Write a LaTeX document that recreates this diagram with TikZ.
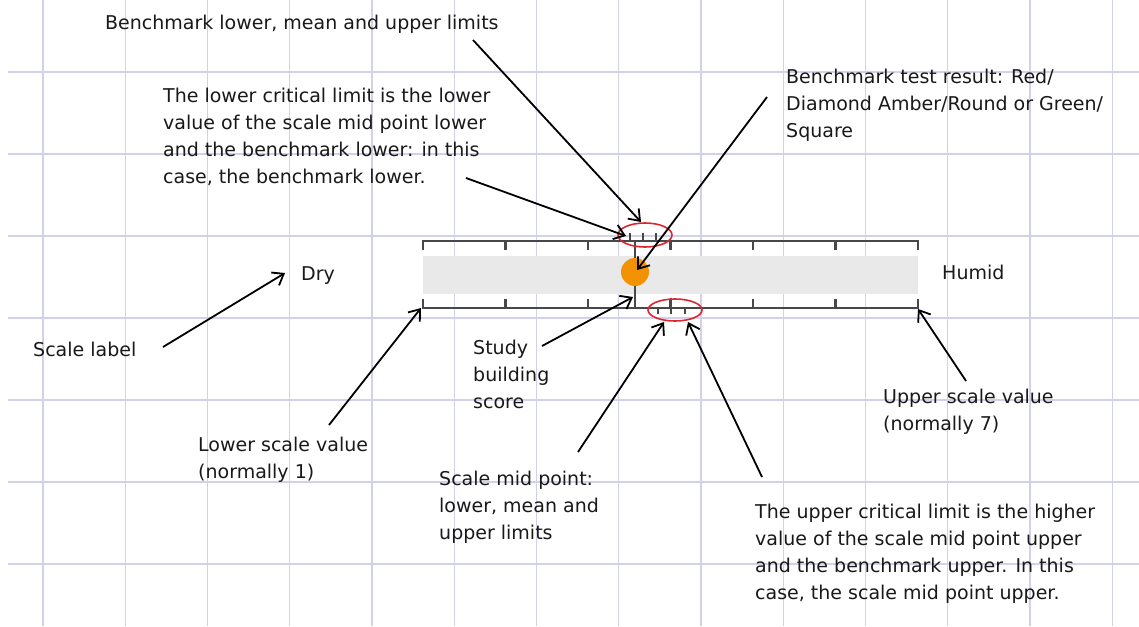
\documentclass[tikz,border=0pt]{standalone}
\usepackage{fontspec}
\setmainfont{DejaVu Sans}
\usetikzlibrary{arrows.meta, shapes.geometric}
\definecolor{gridcol}{RGB}{210,209,234}
\definecolor{barcol}{RGB}{72,72,72}
\definecolor{bandcol}{RGB}{233,233,233}
\definecolor{dotcol}{RGB}{243,146,0}
\definecolor{limcol}{RGB}{220,38,48}

\begin{document}
\begin{tikzpicture}[x=1pt, y=-1pt,
  gridline/.style={gridcol, line width=1.3pt},
  bar/.style={barcol, line width=2.6pt},
  limit/.style={draw=limcol, line width=1.6pt, ellipse, inner sep=0pt},
  arrow/.style={-{Straight Barb[length=10pt, width=15pt]}, line width=1.8pt, black},
  note/.style={anchor=base west, align=left, inner sep=0pt, text=black!90, font=\fontsize{19}{27}\selectfont}]
  \useasboundingbox (0,0) rectangle (1139,626);
  \fill[white] (0,0) rectangle (1139,626);
  \foreach \i in {0,...,13} \draw[gridline] (43+82.25*\i,0) -- (43+82.25*\i,626);
  \foreach \j in {0,...,6} \draw[gridline] (8,72+82*\j) -- (1139,72+82*\j);

  \begin{scope}
    \fill[bandcol] (423,256) rectangle (918,294);
    \draw[bar] (423,250) -- (423,241) -- (918,241) -- (918,250);
    \draw[bar] (423,299) -- (423,308) -- (918,308) -- (918,299);
    \foreach \k in {1,...,5} {
      \draw[bar] (423+82.5*\k,241) -- ++(0,9);
      \draw[bar] (423+82.5*\k,308) -- ++(0,-9);
    }
    \draw[bar] (635,241) -- (635,308);
    \foreach \x in {630,643,656} \draw[barcol, line width=2pt] (\x,241) -- ++(0,-8);
    \foreach \x in {658,685} \draw[barcol, line width=2pt] (\x,308) -- ++(0,6);
    \draw[barcol, line width=2pt] (671,298) -- (671,314);
    \node (score) at (635,272) [circle, fill=dotcol, minimum size=28pt, inner sep=0pt] {};
    \node (bmark) at (645,235) [limit, minimum width=54pt, minimum height=24pt] {};
    \node (midmark) at (675,310) [limit, minimum width=54pt, minimum height=22pt] {};
  \end{scope}

  \node[note] (bench) at (105,30) {Benchmark lower, mean and upper limits};
  \node[note] (lowcrit) at (163,183) {The lower critical limit is the lower\\value of the scale mid point lower\\and the benchmark lower: in this\\case, the benchmark lower.};
  \node[note] (result) at (786,137) {Benchmark test result: Red/\\Diamond Amber/Round or Green/\\Square};
  \node[note] (dry) at (301,280) {Dry};
  \node[note] (humid) at (942,279) {Humid};
  \node[note] (scalelbl) at (33,356) {Scale label};
  \node[note] (study) at (473,408) {Study\\building\\score};
  \node[note] (lowval) at (198,478) {Lower scale value\\(normally 1)};
  \node[note] (midpt) at (439,539) {Scale mid point:\\lower, mean and\\upper limits};
  \node[note] (upval) at (883,430) {Upper scale value\\(normally 7)};
  \node[note] (upcrit) at (755,599) {The upper critical limit is the higher\\value of the scale mid point upper\\and the benchmark upper. In this\\case, the scale mid point upper.};

  \coordinate (bench-from) at (473,40);   \coordinate (bench-to) at (641,222);
  \coordinate (lowcrit-from) at (466,178); \coordinate (lowcrit-to) at (626,236);
  \coordinate (result-from) at (767,97);  \coordinate (result-to) at (637,270);
  \coordinate (scalelbl-from) at (163,347); \coordinate (dry-to) at (285,273);
  \coordinate (lowval-from) at (329,425); \coordinate (lowval-to) at (421,308);
  \coordinate (study-from) at (542,346);  \coordinate (study-to) at (633,297);
  \coordinate (midpt-from) at (578,452);  \coordinate (midpt-to) at (664,322);
  \coordinate (upcrit-from) at (762,477); \coordinate (upcrit-to) at (688,322);
  \coordinate (upval-from) at (966,381);  \coordinate (upval-to) at (918,309);

  \draw[arrow] (bench-from) -- (bench-to);
  \draw[arrow] (lowcrit-from) -- (lowcrit-to);
  \draw[arrow] (result-from) -- (result-to);
  \draw[arrow] (scalelbl-from) -- (dry-to);
  \draw[arrow] (lowval-from) -- (lowval-to);
  \draw[arrow] (study-from) -- (study-to);
  \draw[arrow] (midpt-from) -- (midpt-to);
  \draw[arrow] (upcrit-from) -- (upcrit-to);
  \draw[arrow] (upval-from) -- (upval-to);
\end{tikzpicture}
\end{document}
